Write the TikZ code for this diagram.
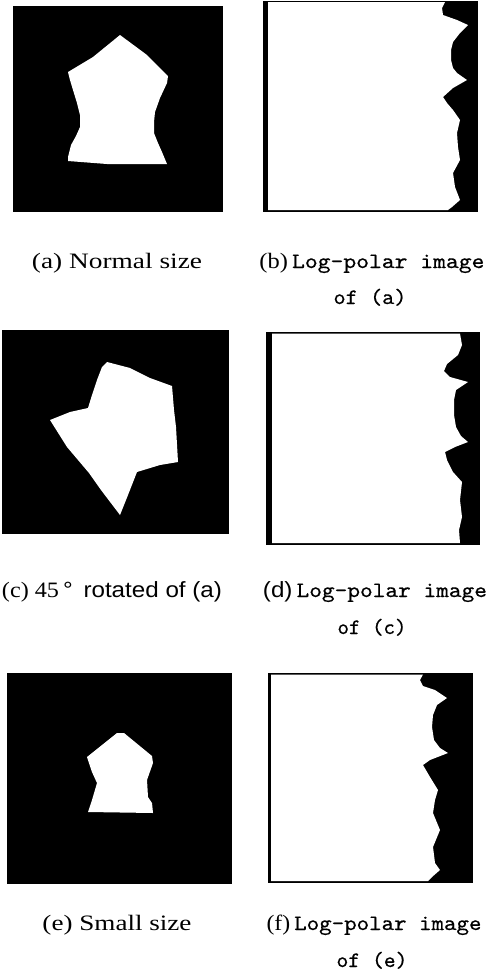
\documentclass[tikz,border=0pt]{standalone}
\usepackage{fontspec}
\setmainfont{Liberation Serif}
\setsansfont{Liberation Sans}
\newfontfamily\captt[FakeBold=0.5]{lmmono10-regular.otf}
\usepackage{graphicx}
\begin{document}
\begin{tikzpicture}[x=1pt,y=-1pt,
  captxt/.style={anchor=base,inner sep=0pt,font=\fontsize{22}{26}\selectfont},
  img/.style={fill=black},
  obj/.style={fill=white}]
\useasboundingbox (0,0) rectangle (489,978);
% (a) normal size
\fill[img] (13,6) rectangle (223,212);
\fill[obj] (120,35) -- (147,55) -- (168,76) -- (167,83) -- (160,98) -- (155,112) -- (154,122) -- (154,133) -- (158,143) -- (162,152) -- (167,164) -- (107,164) -- (68,161) -- (68,157) -- (71,145) -- (76,136) -- (80,127) -- (80,115) -- (77,103) -- (73,90) -- (70,80) -- (68,72) -- (93,57) -- cycle;
% (b) log-polar of (a)
\fill[img] (263,1) rectangle (478,212);
\fill[obj] (268,2) -- (445,2) -- (442,8) -- (443,15) -- (457,20) -- (468,25) -- (460,33) -- (453,42) -- (451,50) -- (451,60) -- (453,68) -- (457,73) -- (467,80) -- (453,88) -- (443,97) -- (447,103) -- (453,110) -- (460,120) -- (457,133) -- (458,147) -- (460,160) -- (453,173) -- (455,187) -- (460,200) -- (452,207) -- (448,210) -- (268,210) -- cycle;
% (c) rotated
\fill[img] (2,330) rectangle (229,534);
\fill[obj] (107,362) -- (130,368) -- (150,378) -- (172,386) -- (174,410) -- (176,427) -- (178,462) -- (160,465) -- (137,472) -- (128,495) -- (120,515) -- (101,490) -- (89,473) -- (67,447) -- (50,420) -- (70,412) -- (88,408) -- (92,395) -- (97,380) -- (102,367) -- cycle;
% (d) log-polar of (c)
\fill[img] (266,332) rectangle (480,545);
\fill[obj] (272,333.5) -- (460,333.5) -- (462,345) -- (458,355) -- (447,364) -- (444,371) -- (450,377) -- (468,382) -- (456,390) -- (454,400) -- (454,415) -- (456,427) -- (461,436) -- (468,442) -- (455,447) -- (445,452) -- (447,460) -- (453,472) -- (462,482) -- (460,500) -- (462,517) -- (459,530) -- (460,543) -- (272,543) -- cycle;
% (e) small size
\fill[img] (7,673) rectangle (232,884);
\fill[obj] (117,733) -- (124,733) -- (152,756) -- (153,763) -- (147,780) -- (148,797) -- (152,803) -- (153,813) -- (88,812) -- (92,800) -- (97,783) -- (92,772) -- (87,757) -- cycle;
% (f) log-polar of (e)
\fill[img] (268,673) rectangle (473,883);
\fill[obj] (271,674.5) -- (423,674.5) -- (420,680) -- (423,686) -- (435,690) -- (447,698) -- (437,705) -- (433,715) -- (432,727) -- (434,740) -- (440,748) -- (448,753) -- (430,760) -- (423,765) -- (430,777) -- (438,790) -- (435,800) -- (433,813) -- (440,830) -- (433,847) -- (435,863) -- (440,870) -- (432,877) -- (428,881) -- (271,881) -- cycle;
% captions
\node[captxt] (ca) at (117,268) {\resizebox{170pt}{\height}{(a) Normal size}};
\node[captxt] (cb1) at (372,268) {\resizebox{225pt}{\height}{(b)\,{\captt Log-polar\ image}}};
\node[captxt] (cb2) at (370,304) {\resizebox{73pt}{\height}{{\captt of (a)}}};
\node[captxt] (cc) at (112,597) {\resizebox{220pt}{\height}{(c) 45\,{\sffamily°\, rotated of (a)}}};
\node[captxt] (cd1) at (375,597) {\resizebox{224pt}{\height}{{\sffamily(d)}\,{\captt Log-polar\ image}}};
\node[captxt] (cd2) at (372,634) {\resizebox{69pt}{\height}{{\captt of (c)}}};
\node[captxt] (ce) at (117,930) {\resizebox{149pt}{\height}{(e) Small size}};
\node[captxt] (cf1) at (374,930) {\resizebox{215pt}{\height}{(f)\,{\captt Log-polar\ image}}};
\node[captxt] (cf2) at (372,967) {\resizebox{71pt}{\height}{{\captt of (e)}}};
\end{tikzpicture}
\end{document}
